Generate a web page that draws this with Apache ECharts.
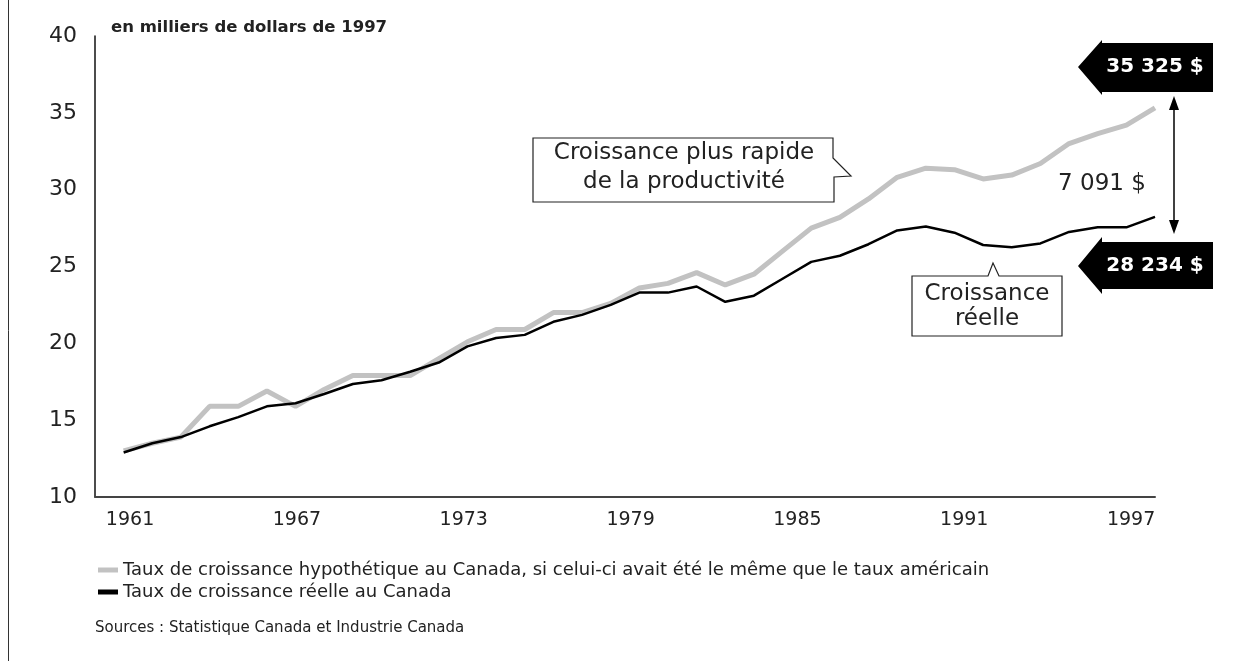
<!DOCTYPE html>
<html>
<head>
<meta charset="utf-8">
<title>Croissance de la productivité</title>
<script src="https://cdn.jsdelivr.net/npm/echarts@6/dist/echarts.min.js"></script>
<style>
  html, body { margin: 0; padding: 0; background: #fff; }
  #chart { width: 1244px; height: 661px; }
</style>
</head>
<body>
<div id="chart"></div>
<script>
// années et valeurs (en milliers de dollars de 1997)
var years = [1961, 1962, 1963, 1964, 1965, 1966, 1967, 1968, 1969, 1970,
  1971, 1972, 1973, 1974, 1975, 1976, 1977, 1978, 1979, 1980,
  1981, 1982, 1983, 1984, 1985, 1986, 1987, 1988, 1989, 1990,
  1991, 1992, 1993, 1994, 1995, 1996, 1997]
var hypothetique = [13.0, 13.5, 13.9, 15.9, 15.9, 16.9, 15.9, 17.0, 17.9, 17.9,
  17.9, 19.0, 20.1, 20.9, 20.9, 22.0, 22.0, 22.6, 23.6, 23.9,
  24.6, 23.8, 24.5, 26.0, 27.5, 28.2, 29.4, 30.8, 31.4, 31.3,
  30.7, 30.95, 31.7, 33.0, 33.65, 34.2, 35.325]
var reelle = [12.9, 13.5, 13.9, 14.6, 15.2, 15.9, 16.1, 16.7, 17.35, 17.6,
  18.15, 18.75, 19.8, 20.35, 20.55, 21.4, 21.85, 22.5, 23.3, 23.3,
  23.7, 22.7, 23.1, 24.2, 25.3, 25.7, 26.45, 27.35, 27.6, 27.2,
  26.4, 26.25, 26.5, 27.25, 27.55, 27.55, 28.234]
var yearLabels = [1961, 1967, 1973, 1979, 1985, 1991, 1997]
var serieNames = [
  'Taux de croissance hypothétique au Canada, si celui-ci avait été le même que le taux américain',
  'Taux de croissance réelle au Canada'
]

var FONT = 'DejaVu Sans'
var chart = echarts.init(document.getElementById('chart'))

function pairs (vals) {
  return years.map(function (y, i) { return [y, vals[i]] })
}

chart.setOption({
  animation: false,
  textStyle: { fontFamily: FONT },
  grid: { left: 95, right: 89, top: 36, bottom: 164 },
  legend: {
    orient: 'vertical',
    left: 98,
    top: 561,
    padding: 0,
    itemWidth: 20,
    itemHeight: 5,
    itemGap: 4,
    icon: 'rect',
    textStyle: { fontSize: 18, color: '#222', fontFamily: FONT },
    data: serieNames
  },
  xAxis: [
    {
      type: 'value',
      position: 'bottom',
      min: 1960,
      max: 1997,
      axisLine: { show: true, lineStyle: { color: '#444', width: 2 } },
      axisTick: { show: false },
      axisLabel: { show: false },
      splitLine: { show: false }
    },
    {
      // axe secondaire seulement pour les étiquettes d'années
      type: 'value',
      position: 'bottom',
      offset: 0,
      min: 1959.74,
      max: 1997.86,
      axisLine: { show: false },
      axisTick: { show: false },
      splitLine: { show: false },
      axisLabel: {
        customValues: yearLabels,
        formatter: function (v) { return String(v) },
        margin: 14,
        fontSize: 19,
        color: '#222',
        fontFamily: FONT
      }
    }
  ],
  yAxis: {
    type: 'value',
    min: 10,
    max: 40,
    interval: 5,
    axisLine: { show: true, lineStyle: { color: '#111', width: 1.5 } },
    axisTick: { show: false },
    splitLine: { show: false },
    axisLabel: { margin: 18, fontSize: 22, color: '#222', fontFamily: FONT }
  },
  series: [
    {
      name: serieNames[0],
      type: 'line',
      xAxisIndex: 0,
      data: pairs(hypothetique),
      symbol: 'none',
      lineStyle: { color: '#c2c2c2', width: 5 },
      itemStyle: { color: '#c2c2c2' },
      z: 2
    },
    {
      name: serieNames[1],
      type: 'line',
      xAxisIndex: 0,
      data: pairs(reelle),
      symbol: 'none',
      lineStyle: { color: '#000', width: 2.5 },
      itemStyle: { color: '#000' },
      z: 3
    }
  ],
  graphic: [
    // bordure gauche
    { type: 'line', shape: { x1: 8.5, y1: 0, x2: 8.5, y2: 661 }, style: { stroke: '#333', lineWidth: 1 } },
    {
      type: 'text',
      left: 111,
      top: 19,
      style: { text: 'en milliers de dollars de 1997', font: 'bold 16.5px ' + FONT, fill: '#222' }
    },
    // bulle « Croissance plus rapide »
    {
      type: 'polygon',
      shape: { points: [[533, 138], [833, 138], [833, 158], [851, 176], [834, 177], [834, 202], [533, 202]] },
      style: { fill: '#fff', stroke: '#222', lineWidth: 1.2 },
      z: 10
    },
    {
      type: 'text',
      z: 11,
      style: {
        text: 'Croissance plus rapide\nde la productivité',
        x: 684, y: 168, align: 'center', verticalAlign: 'middle',
        font: '23px ' + FONT, lineHeight: 29, fill: '#222'
      }
    },
    // bulle « Croissance réelle »
    {
      type: 'polygon',
      shape: { points: [[912, 276], [988, 276], [993, 263], [999, 276], [1062, 276], [1062, 336], [912, 336]] },
      style: { fill: '#fff', stroke: '#222', lineWidth: 1.2 },
      z: 10
    },
    {
      type: 'text',
      z: 11,
      style: {
        text: 'Croissance\nréelle',
        x: 987, y: 307, align: 'center', verticalAlign: 'middle',
        font: '23px ' + FONT, lineHeight: 25, fill: '#222'
      }
    },
    // écart
    {
      type: 'text',
      style: { text: '7 091 $', x: 1102, y: 184, align: 'center', verticalAlign: 'middle', font: '23px ' + FONT, fill: '#222' }
    },
    { type: 'line', shape: { x1: 1174, y1: 104, x2: 1174, y2: 226 }, style: { stroke: '#000', lineWidth: 1.5 } },
    { type: 'polygon', shape: { points: [[1174, 96], [1169, 110], [1179, 110]] }, style: { fill: '#000' } },
    { type: 'polygon', shape: { points: [[1174, 234], [1169, 220], [1179, 220]] }, style: { fill: '#000' } },
    // flèches noires avec valeurs
    {
      type: 'polygon',
      shape: { points: [[1078, 67], [1102, 40], [1102, 43], [1213, 43], [1213, 92], [1102, 92], [1102, 95]] },
      style: { fill: '#000' }
    },
    {
      type: 'text',
      style: { text: '35 325 $', x: 1155, y: 67, align: 'center', verticalAlign: 'middle', font: 'bold 20px ' + FONT, fill: '#fff' }
    },
    {
      type: 'polygon',
      shape: { points: [[1078, 266], [1102, 237], [1102, 242], [1213, 242], [1213, 289], [1102, 289], [1102, 294]] },
      style: { fill: '#000' }
    },
    {
      type: 'text',
      style: { text: '28 234 $', x: 1155, y: 266, align: 'center', verticalAlign: 'middle', font: 'bold 20px ' + FONT, fill: '#fff' }
    },
    {
      type: 'text',
      left: 95,
      top: 621,
      style: { text: 'Sources : Statistique Canada et Industrie Canada', font: '15px ' + FONT, fill: '#222' }
    }
  ]
})
</script>
</body>
</html>
